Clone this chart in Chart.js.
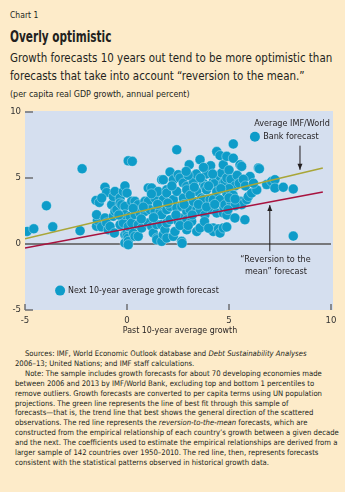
<!DOCTYPE html>
<html>
<head>
<meta charset="utf-8">
<script src="https://cdn.jsdelivr.net/npm/chart.js@4.4.1/dist/chart.umd.min.js"></script>
<style>
  html, body { margin: 0; padding: 0; }
  body {
    width: 345px; height: 492px; position: relative; overflow: hidden;
    background: #fdebc9; color: #231f20;
    font-family: "DejaVu Sans Condensed", sans-serif;
  }
  .t { position: absolute; left: 10px; white-space: nowrap; }
  #kicker { top: 8px; font-size: 8.5px; line-height: 14px; }
  #title { top: 27px; font-size: 15px; font-weight: bold; line-height: 20px; transform: scaleX(0.78); transform-origin: left center; }
  #sub { top: 49px; font-size: 11.45px; line-height: 18px; }
  #unit { top: 87px; font-size: 8.9px; line-height: 14px; }
  #chart { position: absolute; left: 0; top: 100px; }
  #notes { position: absolute; left: 15px; top: 349px; font-size: 7.65px; line-height: 9.9px; white-space: nowrap; }
  #notes .in { padding-left: 10px; }
</style>
</head>
<body>
<div class="t" id="kicker">Chart 1</div>
<div class="t" id="title">Overly optimistic</div>
<div class="t" id="sub">Growth forecasts 10 years out tend to be more optimistic than<br>forecasts that take into account “reversion to the mean.”</div>
<div class="t" id="unit">(per capita real GDP growth, annual percent)</div>
<canvas id="chart" width="345" height="240"></canvas>
<div id="notes">
  <div class="in">Sources: IMF, World Economic Outlook database and <i>Debt Sustainability Analyses</i></div>
  <div>2006–13; United Nations; and IMF staff calculations.</div>
  <div class="in">Note: The sample includes growth forecasts for about 70 developing economies made</div>
  <div>between 2006 and 2013 by IMF/World Bank, excluding top and bottom 1 percentiles to</div>
  <div>remove outliers. Growth forecasts are converted to per capita terms using UN population</div>
  <div>projections. The green line represents the line of best fit through this sample of</div>
  <div>forecasts—that is, the trend line that best shows the general direction of the scattered</div>
  <div>observations. The red line represents the <i>reversion-to-the-mean</i> forecasts, which are</div>
  <div>constructed from the empirical relationship of each country’s growth between a given decade</div>
  <div>and the next. The coefficients used to estimate the empirical relationships are derived from a</div>
  <div>larger sample of 142 countries over 1950–2010. The red line, then, represents forecasts</div>
  <div>consistent with the statistical patterns observed in historical growth data.</div>
</div>
<script>
// past 10-year average growth (x) and next 10-year forecast (y)
const pastGrowth = [
  -4.9, -4.57, -3.95, -3.64, -2.3, -2.2, -1.52, -1.36, -1.49, -1.45, -1.49, -1.25, -1.08, -1.0, -1.24, -1.08,
  -1.0, -0.92, -0.83, -0.75, -0.67, -0.67, -0.62, -0.59, -0.59, -0.5, -0.34, -0.34, -0.34, -0.26, -0.18, -0.18,
  -0.1, -0.1, -0.1, -0.1, -0.1, 0.0, 0.0, 0.0, 0.06, 0.26, 0.06, 0.06, 0.06, 0.06, 0.15, 0.23,
  0.23, 0.31, 0.39, 0.39, 0.39, 0.55, 0.55, 0.55, 0.64, 0.72, 0.88, 0.88, 1.04, 1.04, 1.04, 1.13,
  1.21, 1.21, 1.29, 1.37, 1.37, 1.46, 1.46, 1.46, 1.53, 1.62, 1.7, 1.7, 1.7, 1.7, 1.78, 1.78,
  1.78, 1.86, 1.95, 1.95, 1.95, 1.95, 1.95, 2.11, 2.11, 2.11, 2.27, 2.27, 2.27, 2.35, 2.44, 2.44,
  2.44, 2.51, 2.51, 2.6, 2.6, 2.68, 2.68, 2.7, 2.76, 2.76, 2.93, 2.93, 2.93, 2.93, 2.93, 3.05,
  3.09, 3.17, 3.25, 3.25, 3.42, 3.42, 3.42, 3.58, 3.58, 3.58, 3.66, 3.74, 3.74, 3.82, 3.82, 3.9,
  3.9, 4.07, 4.1, 4.15, 4.23, 4.23, 4.23, 4.23, 4.31, 4.4, 4.4, 4.4, 4.48, 4.56, 4.56, 4.56,
  4.56, 4.64, 4.72, 4.72, 4.72, 4.72, 4.75, 4.8, 4.8, 4.89, 4.89, 4.89, 4.89, 4.89, 5.21, 5.21,
  5.29, 5.54, 5.54, 5.62, 5.62, 5.78, 5.87, 5.95, 6.03, 6.11, 6.36, 6.44, 6.49, 6.85, 7.09, 7.25,
  7.25, 7.66, 8.15, 8.15, 5.0, 5.1, 5.3, 5.0, 5.4, 5.2, 5.5, 5.7, 5.8, 6.2, 5.1, 5.3,
  4.95, 3.4, 3.75, 3.0, 0.7, 1.3, 1.5, 2.0, 2.4, 2.8, 3.1, 3.5, 3.9, 4.0, 3.3, 2.2,
  0.8, 1.2, 0.3, -0.4, 4.3, 4.6, 4.2, 3.6, 2.9, 5.0, 5.3, 3.2, 2.6, 3.0, 3.8, 4.0
];
const forecastGrowth = [
  0.95, 1.15, 2.9, 1.3, 1.0, 5.7, 3.3, 3.15, 1.35, 1.8, 2.22, 1.3, 4.3, 3.9, 3.48, 1.97,
  1.6, 1.08, 1.33, 2.98, 3.6, 2.1, 0.83, 3.98, 2.47, 2.6, 3.48, 3.1, 1.46, 2.98, 3.98, 1.59,
  4.4, 2.85, 2.22, 0.7, 0.08, 3.86, 0.83, 0.58, 6.3, 6.26, 1.33, 0.45, 0.2, -0.05, 2.09, 3.23,
  1.59, 0.83, 3.23, 2.22, 0.58, 2.98, 1.46, 0.58, 2.35, 1.21, 3.23, 2.47, 4.24, 3.23, 1.59, 2.6,
  4.24, 1.33, 0.83, 3.48, 2.47, 1.46, 0.45, 0.33, 3.98, 2.47, 4.87, 2.22, 1.46, 0.2, 4.87, 3.36,
  0.7, 1.08, 4.11, 3.86, 2.6, 1.59, 0.45, 5.45, 2.85, 1.84, 4.87, 3.36, 0.58, 0.95, 7.14, 3.98,
  2.73, 5.25, 1.71, 5.0, 1.97, 2.85, 0.2, 0.05, 4.62, 3.48, 4.36, 4.11, 2.47, 1.84, 1.08, 6.0,
  2.6, 1.71, 4.74, 3.23, 3.98, 2.6, 0.95, 6.39, 2.47, 1.21, 3.48, 4.62, 3.36, 4.36, 2.22, 5.3,
  4.11, 3.36, 5.93, 2.6, 4.74, 3.36, 1.21, 0.95, 4.62, 7.0, 3.98, 2.35, 1.14, 6.7, 5.12, 3.36,
  0.83, 5.38, 6.0, 4.62, 2.35, 1.21, 2.77, 4.74, 2.98, 6.64, 5.0, 3.86, 2.2, 1.29, 7.58, 6.5,
  1.97, 6.0, 3.23, 5.88, 2.98, 1.84, 3.36, 3.6, 5.12, 3.86, 4.1, 5.76, 5.7, 4.5, 4.74, 4.87,
  4.24, 4.3, 4.17, 0.6, 5.6, 4.9, 4.4, 4.2, 5.2, 3.7, 4.6, 4.9, 4.4, 4.6, 3.2, 2.9,
  2.6, 5.3, 5.8, 5.2, 1.9, 2.0, 3.0, 3.1, 2.2, 3.0, 3.7, 3.0, 2.8, 4.4, 4.3, 4.4,
  2.8, 3.8, 2.7, 2.2, 3.0, 4.2, 5.3, 5.0, 5.5, 3.5, 3.4, 2.2, 1.4, 1.4, 1.7, 1.2
];

// trend lines: best fit (green) and reversion to the mean (red)
const lineX = [-5, 9.6];
const bestFitY = [0.4, 5.76];
const reversionY = [-0.3, 3.94];

const xTicks = [-5, 0, 5, 10];
const yTicks = [-5, 0, 5, 10];

const INK = '#231f20';
const DOT = '#0e9cc9';
const FONT = '"DejaVu Sans Condensed", sans-serif';

Chart.defaults.font.family = FONT;
Chart.defaults.color = '#333';

const pts = pastGrowth.map((x, i) => ({ x, y: forecastGrowth[i] }));
const lineOf = ys => lineX.map((x, i) => ({ x, y: ys[i] }));

const plotBg = {
  id: 'plotBg',
  beforeDraw(chart) {
    const { ctx, chartArea: a } = chart;
    ctx.save();
    ctx.fillStyle = '#d5dfef';
    ctx.fillRect(a.left, a.top - 1, a.right - a.left + 2, a.bottom - a.top + 1);
    ctx.restore();
  }
};

function arrow(ctx, x, y1, y2) {
  ctx.beginPath();
  ctx.moveTo(x, y1);
  ctx.lineTo(x, y2);
  ctx.stroke();
  const d = y2 > y1 ? 1 : -1;
  ctx.beginPath();
  ctx.moveTo(x, y2);
  ctx.lineTo(x - 2.5, y2 - d * 6);
  ctx.lineTo(x + 2.5, y2 - d * 6);
  ctx.closePath();
  ctx.fill();
}

// tick dashes inside the plot, labels and arrows
const extras = {
  id: 'extras',
  afterDraw(chart) {
    const { ctx, chartArea: a, scales: { x, y } } = chart;
    ctx.save();
    ctx.strokeStyle = '#6d6e71';
    ctx.lineWidth = 1.5;
    yTicks.filter(v => v !== 0).forEach(v => {
      const py = y.getPixelForValue(v);
      ctx.beginPath(); ctx.moveTo(a.left, py); ctx.lineTo(a.left + 8, py); ctx.stroke();
    });
    xTicks.forEach(v => {
      const px = x.getPixelForValue(v);
      ctx.beginPath(); ctx.moveTo(px, a.bottom); ctx.lineTo(px, a.bottom - 6); ctx.stroke();
    });

    ctx.fillStyle = INK;
    ctx.strokeStyle = INK;
    ctx.lineWidth = 1;
    ctx.font = '9px ' + FONT;
    ctx.textBaseline = 'middle';

    ctx.textAlign = 'right';
    ctx.fillText('Average IMF/World', x.getPixelForValue(9.95), y.getPixelForValue(9.15));
    ctx.fillText('Bank forecast', x.getPixelForValue(9.4), y.getPixelForValue(8.13));
    arrow(ctx, x.getPixelForValue(8.48), y.getPixelForValue(7.45), y.getPixelForValue(5.62));

    ctx.textAlign = 'center';
    ctx.fillText('“Reversion to the', x.getPixelForValue(7.28), y.getPixelForValue(-1.2));
    ctx.fillText('mean” forecast', x.getPixelForValue(7.3), y.getPixelForValue(-2.12));
    arrow(ctx, x.getPixelForValue(7.0), y.getPixelForValue(-0.55), y.getPixelForValue(2.95));

    ctx.textAlign = 'left';
    ctx.font = '8.8px ' + FONT;
    ctx.fillText('Next 10-year average growth forecast', x.getPixelForValue(-2.89), y.getPixelForValue(-3.53));

    ctx.fillStyle = DOT;
    [[-3.28, -3.53], [6.27, 8.13]].forEach(([dx, dy]) => {
      ctx.beginPath();
      ctx.arc(x.getPixelForValue(dx), y.getPixelForValue(dy), 5, 0, Math.PI * 2);
      ctx.fill();
    });

    ctx.fillStyle = INK;
    ctx.font = '8.8px ' + FONT;
    ctx.textAlign = 'center';
    ctx.fillText('Past 10-year average growth', (a.left + a.right) / 2 + 2, a.bottom + 21);
    ctx.restore();
  }
};

new Chart(document.getElementById('chart'), {
  type: 'scatter',
  plugins: [plotBg, extras],
  data: {
    datasets: [
      {
        data: lineOf(reversionY), showLine: true, pointRadius: 0,
        borderColor: '#a8123e', borderWidth: 1.6
      },
      {
        data: lineOf(bestFitY), showLine: true, pointRadius: 0,
        borderColor: '#a9a638', borderWidth: 1.6
      },
      {
        data: pts, pointRadius: 5, pointHoverRadius: 5,
        backgroundColor: DOT, borderColor: 'rgba(255,255,255,0.55)', borderWidth: 0.6
      }
    ]
  },
  options: {
    responsive: false,
    animation: false,
    layout: { padding: { top: 12, right: 14, left: 0, bottom: 0 } },
    plugins: { legend: { display: false }, tooltip: { enabled: false } },
    scales: {
      x: {
        min: -5, max: 10,
        afterFit(s) { s.height = 30; },
        afterBuildTicks(s) { s.ticks = xTicks.map(v => ({ value: v })); },
        ticks: { padding: 5, font: { size: 9.5 }, color: '#333' },
        grid: { display: false, drawTicks: false },
        border: { display: false }
      },
      y: {
        min: -5, max: 10,
        afterFit(s) { s.width = 25; },
        afterBuildTicks(s) { s.ticks = yTicks.map(v => ({ value: v })); },
        ticks: { padding: 4, font: { size: 9.5 }, color: '#333' },
        grid: {
          drawTicks: false,
          color: c => c.tick && c.tick.value === 0 ? '#77787b' : 'rgba(0,0,0,0)',
          lineWidth: 2
        },
        border: { display: false }
      }
    }
  }
});
</script>
</body>
</html>
